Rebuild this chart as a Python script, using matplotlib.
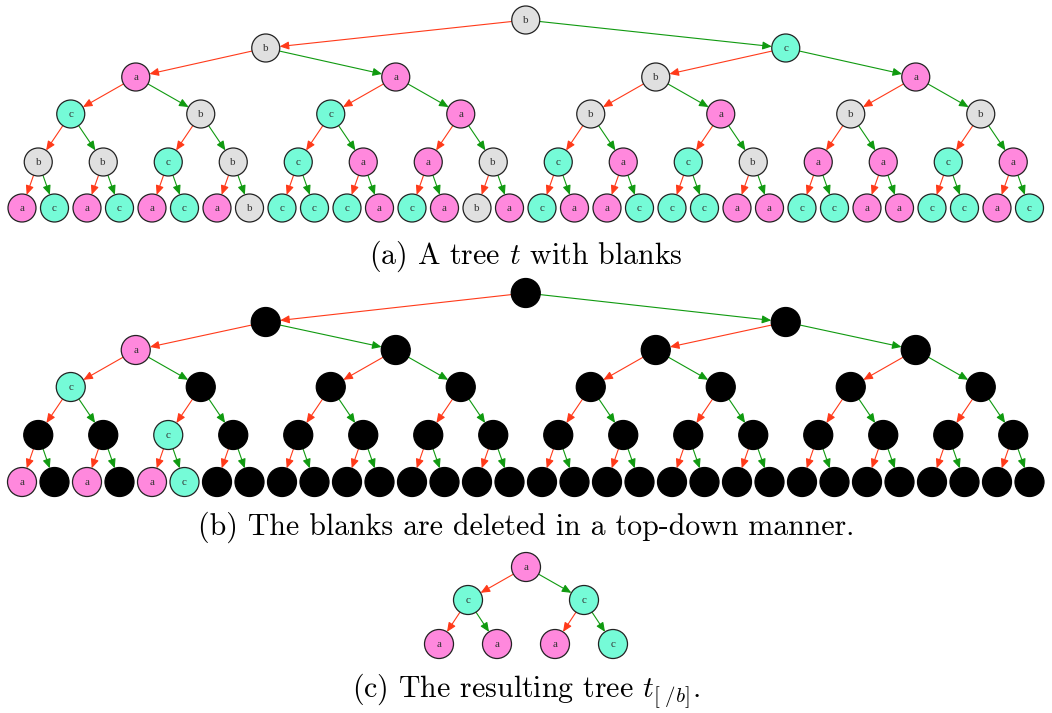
import matplotlib.pyplot as plt
from matplotlib.patches import Circle, FancyArrowPatch

plt.rcParams['mathtext.fontset'] = 'cm'

# Дерево (a): мітки вузлів по рівнях
tree_a = [
    ['b'],
    ['b', 'c'],
    ['a', 'a', 'b', 'a'],
    ['c', 'b', 'c', 'a', 'b', 'a', 'b', 'b'],
    ['b', 'b', 'c', 'b', 'c', 'a', 'a', 'b', 'c', 'a', 'c', 'b', 'a', 'a', 'c', 'a'],
    list('acacacab' 'cccacaba' 'caacccaa' 'ccaaccac'),
]

# Дерево (b): None = видалений (чорний) вузол
tree_b = [
    [None],
    [None, None],
    ['a', None, None, None],
    ['c'] + [None] * 7,
    [None, None, 'c'] + [None] * 13,
    ['a', None, 'a', None, 'a', 'c'] + [None] * 26,
]

# Дерево (c): результат
tree_c = [
    ['a'],
    ['c', 'c'],
    ['a', 'a', 'a', 'c'],
]

captions = [
    r'(a) A tree $t$ with blanks',
    r'(b) The blanks are deleted in a top-down manner.',
    r'(c) The resulting tree $t_{[\ /b]}$.',
]

fill = {'a': '#ff88dd', 'b': '#e0e0e0', 'c': '#75fbd7', None: 'black'}
edge_left = '#ff3a1a'
edge_right = '#109a10'


def layout(levels, leaf_x0, leaf_dx):
    # x координати: листя рівномірно, батьки посередині між дітьми
    xs = [[leaf_x0 + i * leaf_dx for i in range(len(levels[-1]))]]
    for lvl in range(len(levels) - 2, -1, -1):
        below = xs[0]
        xs.insert(0, [(below[2 * i] + below[2 * i + 1]) / 2 for i in range(len(levels[lvl]))])
    return xs


def draw_tree(ax, levels, ys, leaf_x0, leaf_dx, r=14.0):
    xs = layout(levels, leaf_x0, leaf_dx)
    # ребра
    for lvl in range(len(levels) - 1):
        for i, px in enumerate(xs[lvl]):
            py = ys[lvl]
            for k, col in ((0, edge_left), (1, edge_right)):
                cx, cy = xs[lvl + 1][2 * i + k], ys[lvl + 1]
                dx, dy = cx - px, cy - py
                d = (dx ** 2 + dy ** 2) ** 0.5
                ux, uy = dx / d, dy / d
                arr = FancyArrowPatch((px + ux * r, py + uy * r), (cx - ux * r, cy - uy * r),
                                      arrowstyle='-|>,head_length=0.55,head_width=0.24',
                                      mutation_scale=10, color=col, lw=0.8,
                                      shrinkA=0, shrinkB=0, zorder=1)
                ax.add_patch(arr)
    # вузли
    for lvl, labels in enumerate(levels):
        for x, lab in zip(xs[lvl], labels):
            ax.add_patch(Circle((x, ys[lvl]), r, facecolor=fill[lab],
                                edgecolor='#222222' if lab else 'black', lw=0.9, zorder=2))
            if lab:
                ax.text(x, ys[lvl] + 0.5, lab, ha='center', va='center', fontsize=8,
                        family='Liberation Serif', color='#333333', zorder=3)


fig = plt.figure(figsize=(10.52, 7.13), dpi=100)
ax = fig.add_axes([0, 0, 1, 1])
ax.set_xlim(0, 1052)
ax.set_ylim(713, 0)
ax.axis('off')

draw_tree(ax, tree_a, [20, 48, 77, 114, 162, 208], 22, 32.5)
draw_tree(ax, tree_b, [293, 322, 350, 387, 435, 482], 22, 32.5, r=14.5)
draw_tree(ax, tree_c, [567, 600, 644], 439, 58, r=14.5)

for y, txt in zip([264, 535, 698], captions):
    ax.text(526, y, txt, ha='center', va='baseline', fontsize=21.5, family='cmr10')

fig.savefig('out.png', dpi=100)
